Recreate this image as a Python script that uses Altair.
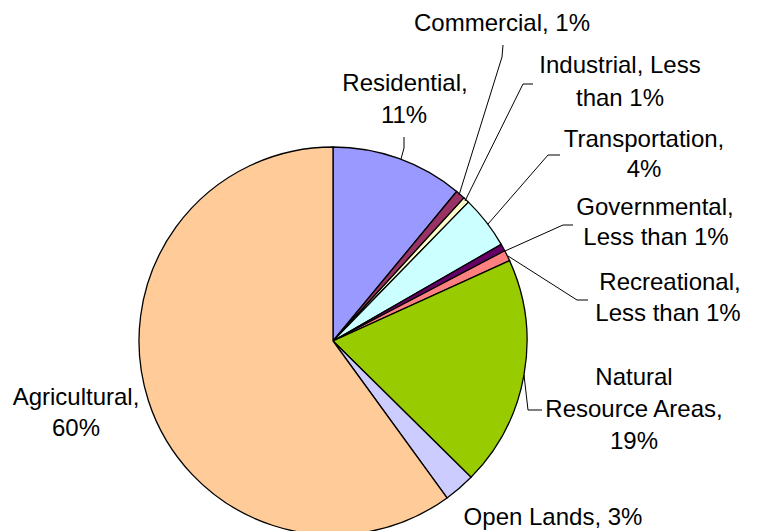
import altair as alt
import pandas as pd

# ---- data ----
categories = ["Residential", "Commercial", "Industrial", "Transportation",
              "Governmental", "Recreational", "Natural Resource Areas",
              "Open Lands", "Agricultural"]
shares = [11.0, 0.8, 0.5, 4.4, 0.6, 0.9, 19.2, 2.6, 60.0]
colors = ["#9999FF", "#993366", "#FFFFCC", "#CCFFFF", "#660066",
          "#FF8080", "#99CC00", "#CCCCFF", "#FFCC99"]

# label text lines (one entry per printed line) and their anchor (centre x, baseline y) in page pixels
label_text = ["Residential,", "11%",
              "Commercial, 1%",
              "Industrial, Less", "than 1%",
              "Transportation,", "4%",
              "Governmental,", "Less than 1%",
              "Recreational,", "Less than 1%",
              "Natural", "Resource Areas,", "19%",
              "Open Lands, 3%",
              "Agricultural,", "60%"]
label_x = [405, 404, 502, 620, 620, 644, 644, 655, 656, 670, 668,
           634, 634, 634, 553, 76, 76]
label_y = [91, 123, 31, 73, 106, 147, 177, 215, 245, 290, 321,
           385, 417, 449, 525, 405, 436]

# leader lines: (line id, x, y) in page pixels
leader_id = ["res", "res", "res", "com", "com", "com", "ind", "ind", "ind",
             "tra", "tra", "tra", "gov", "gov", "gov", "rec", "rec", "rec",
             "nat", "nat", "nat"]
leader_x = [404, 404, 401, 503, 502, 459, 533, 523, 465, 560, 548, 488,
            573, 563, 505, 508, 577, 588, 524, 528, 542]
leader_y = [137, 148, 159, 45, 57, 195, 84, 84, 201, 155, 155, 224,
            225, 225, 251, 256, 300, 300, 375, 410, 410]

MARGIN = 8
W, H = 744, 523
CX, CY, R = 333, 341, 194

pie_df = pd.DataFrame({"cat": categories, "share": shares,
                       "idx": list(range(len(categories)))})
lab_df = pd.DataFrame({"t": label_text,
                       "x": [v - MARGIN for v in label_x],
                       "y": [v - MARGIN for v in label_y]})
lead_df = pd.DataFrame({"line": leader_id,
                        "x": [v - MARGIN for v in leader_x],
                        "y": [v - MARGIN for v in leader_y],
                        "k": list(range(len(leader_id)))})

xs = alt.Scale(domain=[0, W], range=[0, W], nice=False, zero=False)
ys = alt.Scale(domain=[0, H], range=[0, H], nice=False, zero=False)

pie = alt.Chart(pie_df).mark_arc(
    outerRadius=R, stroke="black", strokeWidth=1.3
).encode(
    theta=alt.Theta("share:Q", stack=True),
    color=alt.Color("cat:N", scale=alt.Scale(domain=categories, range=colors),
                    legend=None),
    order=alt.Order("idx:Q"),
    x=alt.value(CX - MARGIN),
    y=alt.value(CY - MARGIN),
)

leaders = alt.Chart(lead_df).mark_line(color="black", strokeWidth=1).encode(
    x=alt.X("x:Q", scale=xs, axis=None),
    y=alt.Y("y:Q", scale=ys, axis=None),
    detail="line:N",
    order="k:Q",
)

labels = alt.Chart(lab_df).mark_text(
    font="Liberation Sans", fontSize=24, color="black",
    align="center", baseline="alphabetic"
).encode(
    x=alt.X("x:Q", scale=xs, axis=None),
    y=alt.Y("y:Q", scale=ys, axis=None),
    text="t:N",
)

chart = alt.layer(pie, leaders, labels).properties(
    width=W, height=H,
    autosize=alt.AutoSizeParams(type="none"),
    padding=0,
).configure_view(strokeWidth=0).resolve_scale(x="shared", y="shared")

chart.save("out.html", embed_options={"renderer": "svg", "actions": False})
